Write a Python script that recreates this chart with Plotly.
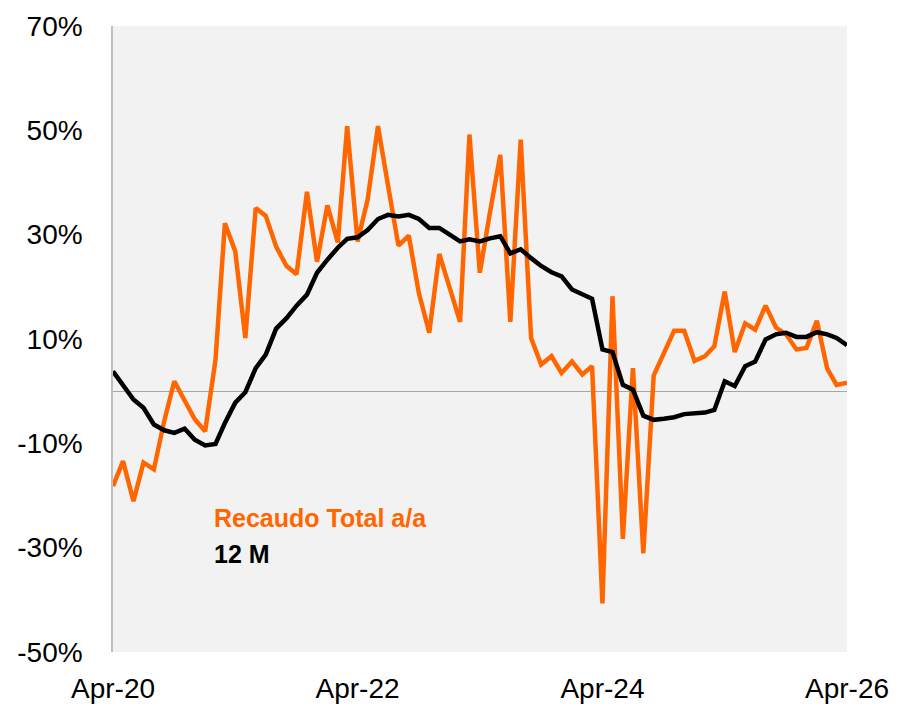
import pandas as pd
import plotly.graph_objects as go

months = pd.date_range("2020-04-01", periods=73, freq="MS")

recaudo_total_aa = [
    -18.2, -13.4, -21.1, -13.7, -15.0, -5.7, 1.9, -1.6, -5.4, -7.7,
    6.0, 32.2, 26.8, 10.2, 35.1, 33.6, 27.7, 24.0, 22.4, 38.2,
    24.8, 35.6, 28.5, 50.8, 28.7, 36.7, 50.8, 39.4, 27.9, 29.8,
    18.8, 11.2, 26.3, 19.8, 13.3, 49.2, 22.7, 34.2, 45.3, 13.3,
    48.2, 10.2, 5.1, 6.7, 3.5, 5.7, 3.2, 4.8, -40.7, 18.2,
    -28.3, 4.4, -31.1, 3.0, 7.3, 11.6, 11.6, 5.8, 6.7, 8.6,
    19.1, 7.5, 13.0, 11.8, 16.4, 12.2, 10.9, 8.0, 8.3, 13.5,
    4.3, 1.2, 1.6,
]

doce_m = [
    3.8, 1.2, -1.6, -3.2, -6.4, -7.5, -8.0, -7.2, -9.3, -10.4,
    -10.1, -6.1, -2.2, -0.2, 4.4, 7.0, 12.0, 14.0, 16.4, 18.5,
    22.7, 25.2, 27.5, 29.2, 29.5, 30.9, 33.0, 33.8, 33.5, 33.8,
    33.0, 31.3, 31.3, 30.0, 28.7, 29.1, 28.7, 29.3, 29.7, 26.4,
    27.2, 25.5, 24.0, 22.8, 22.0, 19.5, 18.5, 17.7, 8.0, 7.5,
    1.2, 0.3, -4.7, -5.5, -5.3, -5.0, -4.4, -4.3, -4.1, -3.6,
    1.9, 1.0, 4.8, 5.7, 9.9, 10.9, 11.2, 10.4, 10.4, 11.3,
    10.9, 10.2, 8.8,
]

x_tick_dates = ["2020-04-01", "2022-04-01", "2024-04-01", "2026-04-01"]
x_tick_labels = ["Apr-20", "Apr-22", "Apr-24", "Apr-26"]
y_ticks = [-50, -30, -10, 10, 30, 50, 70]
y_tick_labels = ["-50%", "-30%", "-10%", "10%", "30%", "50%", "70%"]

ORANGE = "#FF6600"
FONT = "Arial, 'Liberation Sans', sans-serif"

fig = go.Figure()
fig.add_trace(go.Scatter(x=months, y=recaudo_total_aa, mode="lines",
                         name="Recaudo Total a/a",
                         line=dict(color=ORANGE, width=4.5)))
fig.add_trace(go.Scatter(x=months, y=doce_m, mode="lines", name="12 M",
                         line=dict(color="#000000", width=4.5)))

# page body has an 8px default margin, so offsets are compensated here
fig.update_layout(
    width=909, height=704,
    margin=dict(l=105, r=70, t=18, b=60, autoexpand=False),
    paper_bgcolor="white",
    plot_bgcolor="#F2F2F2",
    showlegend=False,
    font=dict(family=FONT, color="#000000"),
    annotations=[
        dict(text="<b>Recaudo Total a/a</b>", xref="paper", yref="paper",
             x=0.135, y=0.2147, xanchor="left", yanchor="middle",
             showarrow=False, font=dict(size=25, color=ORANGE, family=FONT)),
        dict(text="<b>12 M</b>", xref="paper", yref="paper",
             x=0.135, y=0.157, xanchor="left", yanchor="middle",
             showarrow=False, font=dict(size=25, color="#000000", family=FONT)),
    ],
)

fig.update_xaxes(
    range=["2020-04-01", "2026-04-01"],
    tickvals=x_tick_dates, ticktext=x_tick_labels,
    showgrid=False, zeroline=False, showline=False,
    ticks="", ticklabelstandoff=17, automargin=False,
    tickfont=dict(size=28, family=FONT, color="#000000"),
)
fig.update_yaxes(
    range=[-50, 70], tickvals=y_ticks, ticktext=y_tick_labels,
    showgrid=False,
    zeroline=True, zerolinecolor="#A6A6A6", zerolinewidth=1,
    showline=True, linecolor="#BFBFBF", linewidth=1.5,
    ticks="", ticklabelstandoff=23, automargin=False,
    tickfont=dict(size=28, family=FONT, color="#000000"),
)

fig.write_html("out.html")
